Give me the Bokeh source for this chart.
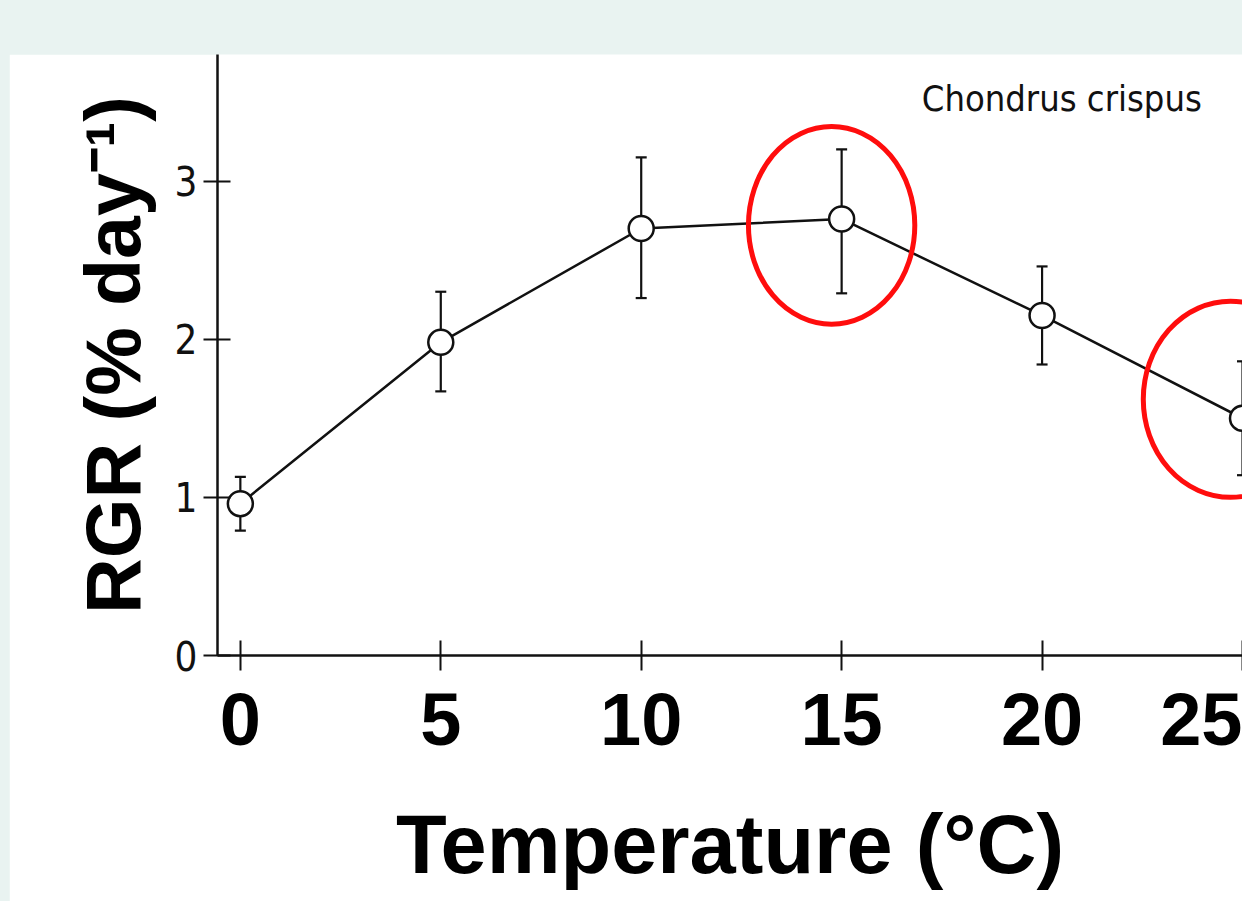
from bokeh.plotting import figure
from bokeh.layouts import column
from bokeh.models import FixedTicker, Range1d, Label
from bokeh.embed import file_html
from bokeh.resources import INLINE

# ---- data ----
temperature = [0, 5, 10, 15, 20, 25]
rgr = [0.96, 1.98, 2.70, 2.76, 2.15, 1.50]
rgr_upper = [1.13, 2.30, 3.15, 3.20, 2.46, 1.86]
rgr_lower = [0.79, 1.67, 2.26, 2.29, 1.84, 1.14]

x_ticks = [0, 5, 10, 15, 20, 25]
y_ticks = [0, 1, 2, 3]

# highlighted points (red ellipses)
highlight_x = [14.75, 24.7]
highlight_y = [2.72, 1.62]
highlight_w = [4.15, 4.35]
highlight_h = [1.25, 1.24]

species = "Chondrus crispus"
x_label = "Temperature (°C)"
y_label = "RGR (% day⁻¹)"

BG = "#e9f3f1"
INK = "#111111"
NARROW = "'Liberation Sans Narrow', 'DejaVu Sans Condensed', sans-serif"

p = figure(
    width=1233, height=847,
    x_range=Range1d(-0.57, 25.0), y_range=Range1d(0, 3.8),
    output_backend="svg", toolbar_location=None,
    min_border_left=208, min_border_right=0, min_border_top=0, min_border_bottom=246,
    background_fill_color="white", border_fill_color="white",
    margin=(54, 0, 0, 9),
)
p.outline_line_color = None
p.grid.visible = False

# axes
xa = p.xaxis[0]
xa.ticker = FixedTicker(ticks=x_ticks)
xa.axis_line_color = INK
xa.axis_line_width = 2.5
xa.major_tick_line_color = INK
xa.major_tick_line_width = 2
xa.major_tick_in = 15
xa.major_tick_out = 15
xa.minor_tick_line_color = None
xa.major_label_text_font = "Liberation Sans"
xa.major_label_text_font_style = "bold"
xa.major_label_text_font_size = "74px"
xa.major_label_text_color = "black"
xa.major_label_standoff = 22
xa.axis_label = x_label
xa.axis_label_text_font = "Liberation Sans"
xa.axis_label_text_font_style = "bold"
xa.axis_label_text_font_size = "83px"
xa.axis_label_text_color = "black"
xa.axis_label_standoff = 50

ya = p.yaxis[0]
ya.ticker = FixedTicker(ticks=y_ticks)
ya.axis_line_color = INK
ya.axis_line_width = 2.5
ya.major_tick_line_color = INK
ya.major_tick_line_width = 2
ya.major_tick_in = 13
ya.major_tick_out = 14
ya.minor_tick_line_color = None
ya.major_label_text_font = NARROW
ya.major_label_text_font_size = "40px"
ya.major_label_text_color = INK
ya.major_label_standoff = 6
ya.axis_label = y_label
ya.axis_label_text_font = "Liberation Sans"
ya.axis_label_text_font_style = "bold"
ya.axis_label_text_font_size = "77px"
ya.axis_label_text_color = "black"
ya.axis_label_standoff = 16

# error bars
p.segment(x0=temperature, y0=rgr_lower, x1=temperature, y1=rgr_upper,
          line_color=INK, line_width=2.2)
p.scatter(x=temperature + temperature, y=rgr_upper + rgr_lower, marker="dash",
          size=11, line_color=INK, line_width=2.2)

# data line and open circles
p.line(x=temperature, y=rgr, line_color=INK, line_width=2.5)
p.scatter(x=temperature, y=rgr, marker="circle", size=25,
          fill_color="white", line_color=INK, line_width=2.5)

# red highlight ellipses
p.ellipse(x=highlight_x, y=highlight_y, width=highlight_w, height=highlight_h,
          fill_color=None, line_color="#ff0d0d", line_width=5)

# species label
p.add_layout(Label(x=17.0, y=3.52, text=species, text_align="left", text_baseline="middle",
                   text_font=NARROW, text_font_size="36px", text_color=INK))

layout = column(p, width=1242, height=901,
                styles={"background-color": BG})

open("out.html", "w").write(file_html(layout, INLINE))
